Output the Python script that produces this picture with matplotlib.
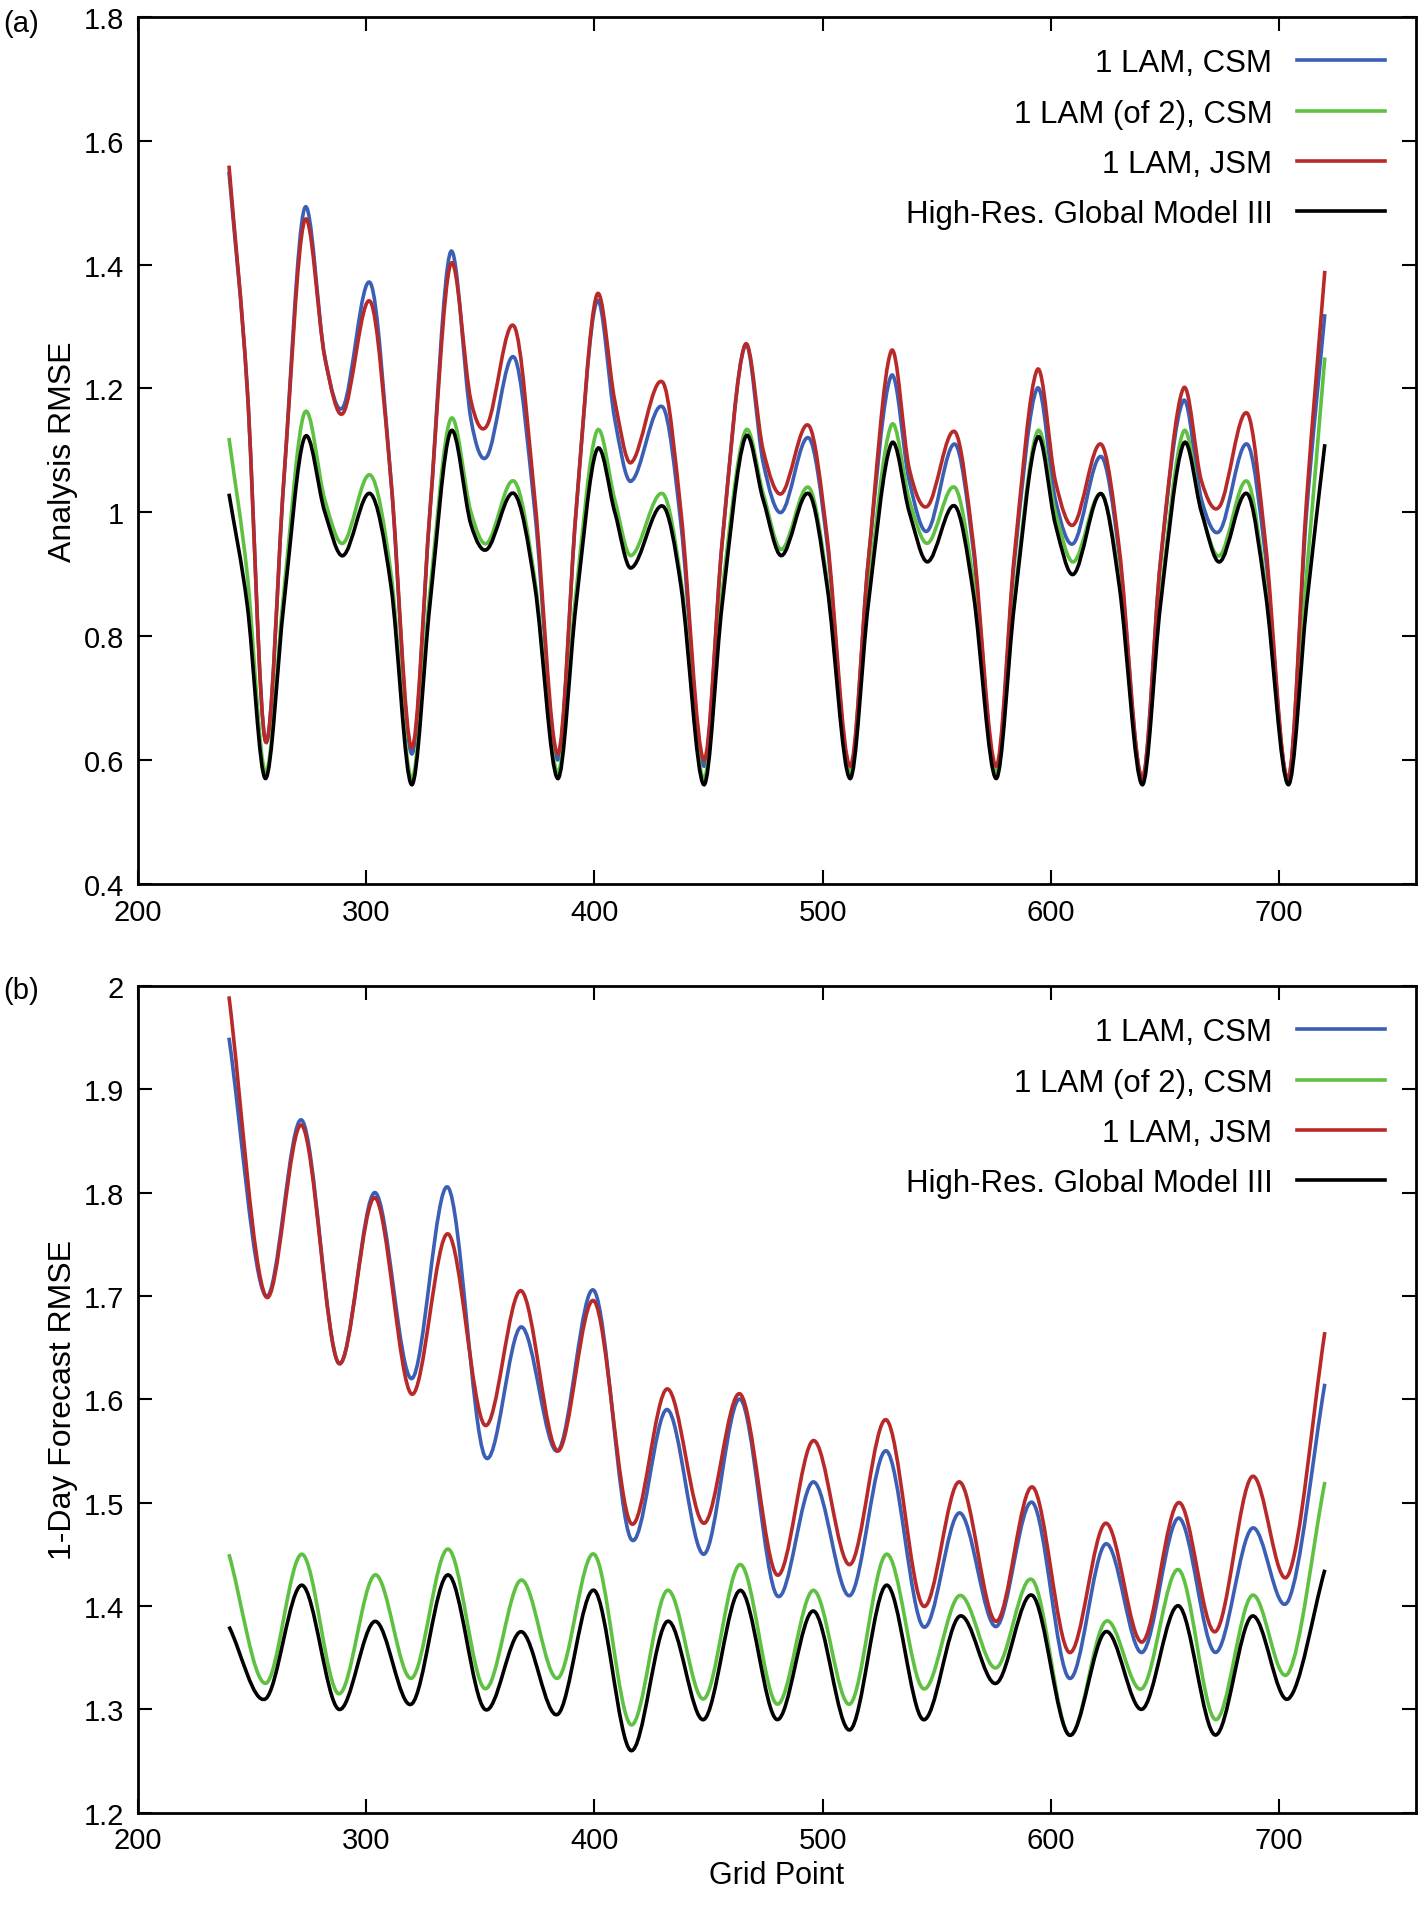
import matplotlib
matplotlib.use("Agg")
import matplotlib.pyplot as plt
from matplotlib.path import Path
from matplotlib.patches import PathPatch
from matplotlib.lines import Line2D

xa = [240,248,256,264, 273,282,290,302,311, 320,328,337,346,353,365,374, 384,392,401,409,416,430,438,
      448,456,466,474,482,494,502, 512,520,530,538,546,558,566, 576,584,594,602,610,622,630,
      640,648,658,666,674,686,694, 704,712,720]
a_black = [1.03,0.85,0.57,0.85, 1.12,1.0,0.93,1.03,0.88, 0.56,0.85,1.13,0.98,0.94,1.03,0.88,
           0.57,0.85,1.10,1.0,0.91,1.01,0.88, 0.56,0.85,1.12,1.02,0.93,1.03,0.88,
           0.57,0.85,1.11,1.0,0.92,1.01,0.87, 0.57,0.85,1.12,0.98,0.90,1.03,0.88,
           0.56,0.85,1.11,1.0,0.92,1.03,0.87, 0.56,0.85,1.11]
a_green = [1.12,0.9,0.58,0.87, 1.16,1.02,0.95,1.06,0.9, 0.57,0.87,1.15,1.0,0.95,1.05,0.89,
           0.58,0.87,1.13,1.02,0.93,1.03,0.89, 0.57,0.87,1.13,1.03,0.94,1.04,0.89,
           0.58,0.87,1.14,1.02,0.95,1.04,0.89, 0.58,0.86,1.13,1.0,0.92,1.03,0.89,
           0.57,0.86,1.13,1.0,0.93,1.05,0.88, 0.57,0.9,1.25]
a_blue = [1.55,1.2,0.63,1.05, 1.49,1.25,1.17,1.37,1.05, 0.61,1.0,1.42,1.15,1.09,1.25,1.0,
          0.60,1.0,1.34,1.15,1.05,1.17,0.98, 0.59,0.95,1.27,1.08,1.0,1.12,0.95,
          0.58,0.92,1.22,1.05,0.97,1.11,0.94, 0.58,0.92,1.20,1.02,0.95,1.09,0.93,
          0.57,0.92,1.18,1.02,0.97,1.11,0.93, 0.57,1.0,1.32]
a_red = [1.56,1.2,0.63,1.05, 1.47,1.25,1.16,1.34,1.05, 0.62,1.0,1.40,1.18,1.14,1.30,1.02,
         0.61,1.0,1.35,1.18,1.08,1.21,1.0, 0.60,0.95,1.27,1.10,1.03,1.14,0.96,
         0.59,0.92,1.26,1.07,1.01,1.13,0.95, 0.59,0.93,1.23,1.05,0.98,1.11,0.94,
         0.57,0.92,1.20,1.05,1.01,1.16,0.95, 0.57,1.02,1.39]

xb = [240] + list(range(256, 721, 16))
b_black = [1.38,1.31,1.42,1.30,1.385,1.305,1.43,1.30,1.375,1.295,1.415,1.26,1.385,1.29,1.415,1.29,
           1.395,1.28,1.42,1.29,1.39,1.325,1.41,1.275,1.375,1.30,1.40,1.275,1.39,1.31,1.435]
b_green = [1.45,1.325,1.45,1.315,1.43,1.33,1.455,1.32,1.425,1.33,1.45,1.285,1.415,1.31,1.44,1.305,
           1.415,1.305,1.45,1.32,1.41,1.34,1.425,1.275,1.385,1.32,1.435,1.29,1.41,1.335,1.52]
b_blue = [1.95,1.70,1.87,1.635,1.80,1.62,1.805,1.545,1.67,1.55,1.705,1.465,1.59,1.45,1.60,1.41,
          1.52,1.41,1.55,1.38,1.49,1.38,1.50,1.33,1.46,1.355,1.485,1.355,1.475,1.405,1.615]
b_red = [1.99,1.70,1.865,1.635,1.795,1.605,1.76,1.575,1.705,1.55,1.695,1.48,1.61,1.48,1.605,1.43,
         1.56,1.44,1.58,1.40,1.52,1.385,1.515,1.355,1.48,1.365,1.50,1.375,1.525,1.43,1.665]

labels = ["1 LAM, CSM", "1 LAM (of 2), CSM", "1 LAM, JSM", "High-Res. Global Model III"]
colors = ["#3b5fb5", "#5fc142", "#b82a2a", "#000000"]

def smooth(ax, x, y, c):
    n = len(x)
    t = []
    for i in range(n):
        i0, i1 = max(i-1, 0), min(i+1, n-1)
        t.append((y[i1]-y[i0])/(x[i1]-x[i0]))
    verts = [(x[0], y[0])]; codes = [Path.MOVETO]
    for i in range(n-1):
        dx = (x[i+1]-x[i])/3
        verts += [(x[i]+dx, y[i]+t[i]*dx), (x[i+1]-dx, y[i+1]-t[i+1]*dx), (x[i+1], y[i+1])]
        codes += [Path.CURVE4]*3
    ax.add_patch(PathPatch(Path(verts, codes), fill=False, edgecolor=c, lw=2.6))

plt.rcParams['font.family'] = ['Liberation Sans', 'DejaVu Sans']
fig = plt.figure(figsize=(14.19, 19.15), dpi=100)
axa = fig.add_axes([0.097, 0.538, 0.901, 0.4526])
axb = fig.add_axes([0.097, 0.053, 0.901, 0.4316])

for ax, x, ser, ylim, yt, yl in [
    (axa, xa, [a_blue, a_green, a_red, a_black], (0.4, 1.8), [0.4,0.6,0.8,1,1.2,1.4,1.6,1.8], "Analysis RMSE"),
    (axb, xb, [b_blue, b_green, b_red, b_black], (1.2, 2.0), [1.2,1.3,1.4,1.5,1.6,1.7,1.8,1.9,2], "1-Day Forecast RMSE")]:
    for s, c in zip(ser, colors):
        smooth(ax, x, s, c)
    ax.set_xlim(200, 760); ax.set_ylim(*ylim)
    ax.set_xticks([200,300,400,500,600,700]); ax.set_yticks(yt)
    ax.set_yticklabels([f"{v:g}" for v in yt])
    ax.tick_params(direction='in', top=True, right=True, labelsize=21, length=10, width=1.5, pad=10)
    for sp in ax.spines.values(): sp.set_linewidth(2)
    ax.set_ylabel(yl, fontsize=23)
    handles = [Line2D([], [], color=c, lw=2.6) for c in colors]
    ax.legend(handles, labels, loc='upper right', frameon=False, markerfirst=False, fontsize=22.5,
              handlelength=2.8, labelspacing=0.65, borderaxespad=0.6)

axb.set_xlabel("Grid Point", fontsize=22)
fig.text(0.002, 0.995, "(a)", fontsize=21, va='top')
fig.text(0.002, 0.49, "(b)", fontsize=21, va='top')
fig.savefig("out.png", dpi=100)
